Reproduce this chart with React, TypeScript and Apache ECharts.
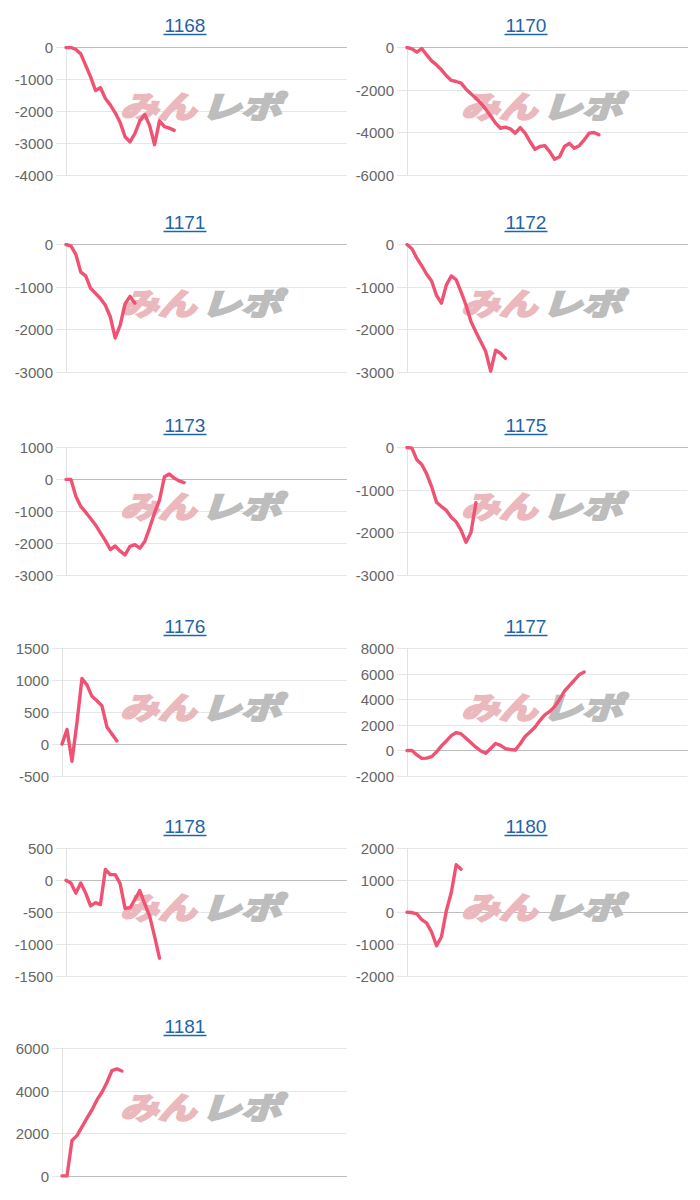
import React, { useEffect, useRef } from 'react';
import * as echarts from 'echarts';

const TITLES = ['1168', '1170', '1171', '1172', '1173', '1175', '1176', '1177', '1178', '1180', '1181'];

const s1168 = [0, 0, -60, -200, -560, -920, -1350, -1260, -1600, -1800, -2050, -2350, -2800, -2960, -2700, -2300, -2100, -2450, -3050, -2300, -2480, -2530, -2600];
const s1170 = [0, -60, -220, -50, -350, -630, -820, -1050, -1330, -1550, -1600, -1680, -1960, -2180, -2390, -2620, -2900, -3220, -3560, -3800, -3750, -3830, -4030, -3770, -4030, -4430, -4790, -4660, -4620, -4900, -5260, -5140, -4660, -4510, -4740, -4620, -4350, -4030, -4000, -4110];
const s1171 = [0, -30, -230, -650, -740, -1030, -1150, -1270, -1430, -1700, -2200, -1900, -1400, -1220, -1380];
const s1172 = [0, -100, -320, -500, -700, -860, -1200, -1380, -950, -740, -830, -1120, -1430, -1810, -2060, -2290, -2520, -2980, -2490, -2560, -2680];
const s1173 = [0, 0, -530, -850, -1030, -1230, -1430, -1680, -1920, -2200, -2090, -2250, -2370, -2100, -2050, -2160, -1950, -1520, -1050, -650, 80, 170, 40, -50, -100];
const s1175 = [0, -15, -290, -400, -620, -920, -1290, -1390, -1480, -1640, -1750, -1950, -2230, -2000, -1300];
const s1176 = [0, 230, -270, 340, 1030, 930, 750, 680, 600, 270, 160, 50];
const s1177 = [0, 0, -350, -620, -600, -480, -120, 360, 750, 1170, 1410, 1300, 960, 610, 260, -40, -220, 160, 550, 400, 150, 80, 30, 530, 1100, 1450, 1830, 2350, 2800, 3070, 3440, 4000, 4650, 5090, 5510, 5950, 6160];
const s1178 = [0, -40, -200, -40, -200, -400, -350, -380, 170, 90, 90, -50, -440, -430, -300, -160, -370, -560, -880, -1220];
const s1180 = [0, -10, -50, -230, -340, -620, -1050, -770, 50, 620, 1490, 1350];
const s1181 = [0, 0, 1670, 1900, 2310, 2720, 3110, 3580, 3940, 4400, 4960, 5040, 4940];

const SERIES = [s1168, s1170, s1171, s1172, s1173, s1175, s1176, s1177, s1178, s1180, s1181];
const Y_MIN = [-4000, -6000, -3000, -3000, -3000, -3000, -500, -2000, -1500, -2000, 0];
const Y_MAX = [0, 0, 0, 0, 1000, 0, 1500, 8000, 500, 2000, 6000];
const Y_STEP = [1000, 2000, 1000, 1000, 1000, 1000, 500, 2000, 500, 1000, 2000];
const X_SLOTS = 58;

const ROW_TOPS = [0, 197, 400, 601, 801, 1001];
const COL_X = [0, 341];
const LINE_COLOR = '#ef5272';
const TITLE_COLOR = '#1f64a6';

export default function App() {
  const ref = useRef<HTMLDivElement>(null);
  useEffect(() => {
    const chart = echarts.init(ref.current!, null, { renderer: 'svg' });
    const cats = Array.from({ length: X_SLOTS }, (_, i) => String(i));
    const grids: any[] = [];
    const xAxes: any[] = [];
    const yAxes: any[] = [];
    const series: any[] = [];
    const elements: any[] = [];
    TITLES.forEach((t, i) => {
      const colX = COL_X[i % 2];
      const rowTop = ROW_TOPS[Math.floor(i / 2)];
      let maxLen = 0;
      for (let v = Y_MIN[i]; v <= Y_MAX[i]; v += Y_STEP[i]) maxLen = Math.max(maxLen, String(v).length);
      const left = colX + (maxLen >= 5 ? 66 : 62);
      grids.push({ left, top: rowTop + 47.5, width: colX + 346.5 - left, height: 127.5 });
      xAxes.push({
        type: 'category', gridIndex: i, data: cats, boundaryGap: false,
        axisLabel: { show: false }, axisTick: { show: false }, splitLine: { show: false },
        axisLine: { show: true, onZero: true, lineStyle: { color: '#bdbdbd', width: 1 } },
      });
      yAxes.push({
        type: 'value', gridIndex: i, min: Y_MIN[i], max: Y_MAX[i], interval: Y_STEP[i],
        axisLine: { show: true, lineStyle: { color: '#e2e2e2' } },
        axisTick: { show: true, length: 10, lineStyle: { color: '#e6e6e6' } },
        splitLine: { show: true, lineStyle: { color: '#e6e6e6', width: 1 } },
        axisLabel: {
          color: '#666666', fontSize: 15, fontFamily: 'Liberation Sans, Arial, sans-serif', margin: 13,
          formatter: (v: number) => String(v),
        },
      });
      series.push({
        type: 'line', xAxisIndex: i, yAxisIndex: i, data: SERIES[i], showSymbol: false,
        lineStyle: { color: LINE_COLOR, width: 3.4, join: 'round', cap: 'round' }, z: 3,
      });
      const cx = colX + 185;
      elements.push({
        type: 'text', x: cx, y: rowTop + 25.5, z: 5,
        style: { text: t, fill: TITLE_COLOR, font: '19px "Liberation Sans", Arial, sans-serif', textAlign: 'center', textVerticalAlign: 'middle' },
      });
      elements.push({
        type: 'line', z: 5,
        shape: { x1: cx - 21.5, y1: rowTop + 34.5, x2: cx + 21.5, y2: rowTop + 34.5 },
        style: { stroke: TITLE_COLOR, lineWidth: 1.4 },
      });
      elements.push({
        type: 'text', x: colX + 158, y: rowTop + 105, scaleY: 0.8, z: 1,
        style: { text: 'みん', fill: '#ebb8bd', stroke: '#ebb8bd', lineWidth: 3, font: 'italic bold 38px "Noto Sans CJK JP", sans-serif', textAlign: 'center', textVerticalAlign: 'middle' },
      });
      elements.push({
        type: 'text', x: colX + 241, y: rowTop + 105, scaleX: 1.06, scaleY: 0.8, z: 1,
        style: { text: 'レポ', fill: '#bdbdbd', stroke: '#bdbdbd', lineWidth: 3, font: 'italic bold 38px "Noto Sans CJK JP", sans-serif', textAlign: 'center', textVerticalAlign: 'middle' },
      });
    });
    chart.setOption({
      animation: false,
      grid: grids,
      xAxis: xAxes,
      yAxis: yAxes,
      series,
      graphic: { elements },
    });
    return () => chart.dispose();
  }, []);
  return <div ref={ref} style={{ position: 'absolute', left: 0, top: 0, width: 700, height: 1200 }} />;
}
